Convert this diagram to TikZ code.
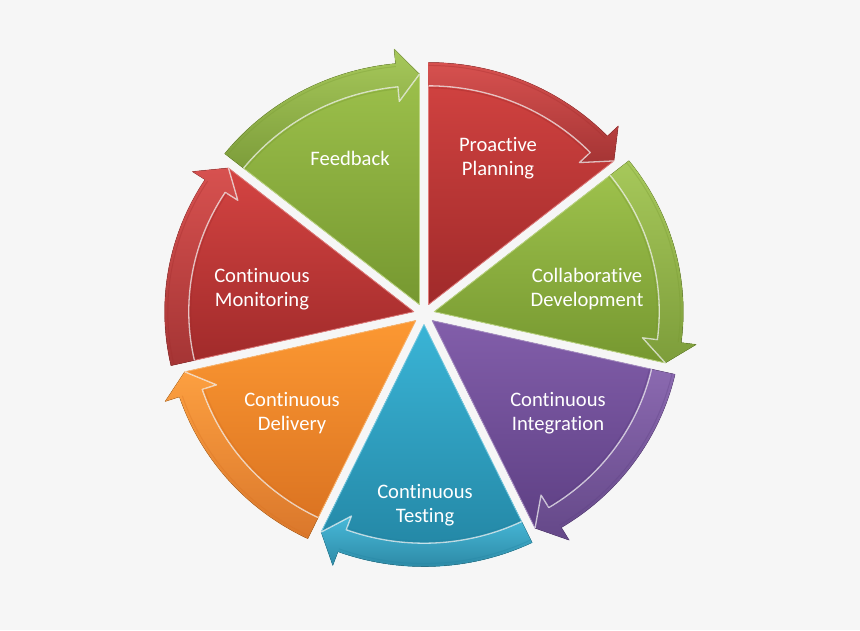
\documentclass[tikz,border=0pt]{standalone}
\usepackage{fontspec}
\setmainfont[Ligatures={NoCommon}]{Carlito}
\definecolor{bg}{RGB}{246,246,246}
\definecolor{redT}{RGB}{212,68,66}
\definecolor{redB}{RGB}{160,42,42}
\definecolor{grnT}{RGB}{160,196,78}
\definecolor{grnB}{RGB}{118,152,48}
\definecolor{purT}{RGB}{130,94,170}
\definecolor{purB}{RGB}{92,62,130}
\definecolor{tealT}{RGB}{58,180,214}
\definecolor{tealB}{RGB}{34,132,162}
\definecolor{orgT}{RGB}{252,152,50}
\definecolor{orgB}{RGB}{216,112,32}
\def\segOff{10.5}
\def\segRo{249}
\def\segRi{225}
\def\segRm{237}
\def\segH{15}
\def\segDl{5.5}
\def\segKy{0.972}
\newcommand\segpiece[3]{%
  \pgfmathsetmacro\segS{90-#1*360/7}%
  \pgfmathsetmacro\segE{\segS-360/7}%
  \pgfmathsetmacro\segM{\segS-180/7}%
  \pgfmathsetmacro\segAx{424+\segOff*cos(\segM)}%
  \pgfmathsetmacro\segAy{314-\segOff*sin(\segM)}%
  \pgfmathsetmacro\segED{\segE+\segDl}%
  % body
  \fill[top color=#2,bottom color=#3,draw=#2!70!white,line width=0.8pt,line join=round]
    (\segAx,\segAy) -- ({\segAx+\segRo*cos(\segS)},{\segAy-\segRo*\segKy*sin(\segS)})
    -- plot[domain=\segS:\segED,samples=40] ({\segAx+\segRo*cos(\x)},{\segAy-\segRo*\segKy*sin(\x)})
    -- ({\segAx+(\segRo+\segH)*cos(\segED)},{\segAy-(\segRo+\segH)*\segKy*sin(\segED)})
    -- ({\segAx+\segRm*cos(\segE)},{\segAy-\segRm*\segKy*sin(\segE)})
    -- cycle;
  % band
  \fill[top color=#2!93!white,bottom color=#3!95!white,line join=round]
    ({\segAx+\segRo*cos(\segS)},{\segAy-\segRo*\segKy*sin(\segS)})
    -- plot[domain=\segS:\segED,samples=40] ({\segAx+\segRo*cos(\x)},{\segAy-\segRo*\segKy*sin(\x)})
    -- ({\segAx+(\segRo+\segH)*cos(\segED)},{\segAy-(\segRo+\segH)*\segKy*sin(\segED)})
    -- ({\segAx+\segRm*cos(\segE)},{\segAy-\segRm*\segKy*sin(\segE)})
    -- ({\segAx+(\segRi-\segH)*cos(\segED)},{\segAy-(\segRi-\segH)*\segKy*sin(\segED)})
    -- ({\segAx+\segRi*cos(\segED)},{\segAy-\segRi*\segKy*sin(\segED)})
    -- plot[domain=\segED:\segS,samples=40] ({\segAx+\segRi*cos(\x)},{\segAy-\segRi*\segKy*sin(\x)})
    -- cycle;
  % highlight on inner edge of band
  \draw[white,opacity=0.7,line width=1.3pt,line join=round]
    plot[domain=\segS:\segED,samples=40] ({\segAx+\segRi*cos(\x)},{\segAy-\segRi*\segKy*sin(\x)})
    -- ({\segAx+(\segRi-\segH)*cos(\segED)},{\segAy-(\segRi-\segH)*\segKy*sin(\segED)})
    -- ({\segAx+\segRm*cos(\segE)},{\segAy-\segRm*\segKy*sin(\segE)});
  % soft shade inside the inner edge
  \draw[#3,opacity=0.35,line width=1.2pt]
    plot[domain=\segS:\segED,samples=40] ({\segAx+(\segRi-2)*cos(\x)},{\segAy-(\segRi-2)*\segKy*sin(\x)});
  % soft ridge near outer edge
  \draw[#3,opacity=0.3,line width=1pt]
    plot[domain=\segS:\segED,samples=40] ({\segAx+(\segRo-3)*cos(\x)},{\segAy-(\segRo-3)*\segKy*sin(\x)});
}
\begin{document}
\begin{tikzpicture}[x=1pt,y=-1pt,
  lbl/.style={text=white,font=\fontsize{20.6}{23.5}\selectfont,align=center,inner sep=0pt}]
\useasboundingbox (0,0) rectangle (860,630);
\fill[bg] (0,0) rectangle (860,630);
\segpiece{0}{redT}{redB}
\segpiece{1}{grnT}{grnB}
\segpiece{2}{purT}{purB}
\segpiece{3}{tealT}{tealB}
\segpiece{4}{orgT}{orgB}
\segpiece{5}{redT}{redB}
\segpiece{6}{grnT}{grnB}
\node[lbl] (pp) at (498,158) {Proactive\\Planning};
\node[lbl] (cd) at (587,289) {Collaborative\\Development};
\node[lbl] (ci) at (558,413) {Continuous\\Integration};
\node[lbl] (ct) at (425,505) {Continuous\\Testing};
\node[lbl] (cdl) at (292,413) {Continuous\\Delivery};
\node[lbl] (cm) at (262,289) {Continuous\\Monitoring};
\node[lbl] (fb) at (350,158) {Feedback};
\end{tikzpicture}
\end{document}
